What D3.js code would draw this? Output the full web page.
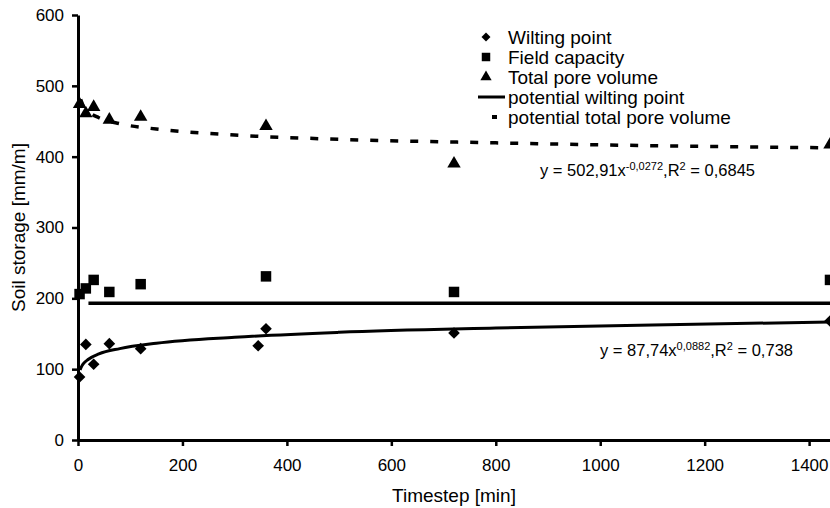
<!DOCTYPE html>
<html>
<head>
<meta charset="utf-8">
<script src="https://cdn.jsdelivr.net/npm/d3@7"></script>
<style>
  body { margin: 0; background: #fff; }
  svg { display: block; font-family: "Liberation Sans", Arial, sans-serif; }
</style>
</head>
<body>
<div id="chart"></div>
<script>
// measured timesteps [min] and soil storage [mm/m]
const timeWilting = [3, 15, 30, 60, 120, 345, 360, 720, 1440];
const wiltingPoint = [89, 135, 107, 136, 129, 133, 157, 151, 168];

const timeField = [3, 15, 30, 60, 120, 360, 720, 1440];
const fieldCapacity = [206, 214, 226, 209, 220, 231, 209, 226];

const timePore = [3, 15, 30, 60, 120, 360, 720, 1440];
const totalPoreVolume = [474, 461, 470, 452, 456, 443, 390, 417];

// trend lines
const trendWiltX = [4, 7, 10, 20, 40, 80, 150, 300, 500, 800, 1100, 1440];
const trendWiltY = [99, 104, 107.5, 114, 121.5, 129, 136.5, 145, 152, 158, 162.5, 166.5];

const trendPoreX = [5, 10, 20, 40, 80, 150, 300, 500, 800, 1100, 1440];
const trendPoreY = [481, 472, 463.5, 455, 446.5, 439, 430.5, 424.5, 419.5, 415.5, 412.5];

const levelX = [20, 1440];
const levelY = [193, 193];

const xTicks = [0, 200, 400, 600, 800, 1000, 1200, 1400];
const yTicks = [0, 100, 200, 300, 400, 500, 600];

const legendLabels = [
  "Wilting point",
  "Field capacity",
  "Total pore volume",
  "potential wilting point",
  "potential total pore volume",
];

const width = 830;
const height = 508;
const margin = { top: 15, right: 0, bottom: 68, left: 78 };

const svg = d3.select("#chart")
  .append("svg")
  .attr("width", width)
  .attr("height", height);

const xScale = d3.scaleLinear([0, 1440], [margin.left, width - margin.right]);
const yScale = d3.scaleLinear([0, 600], [height - margin.bottom, margin.top]);

const diamond = d3.symbol(d3.symbolSquare, 68);
const square = d3.symbol(d3.symbolSquare, 110);
const triangle = d3.symbol(d3.symbolTriangle, 78);

function drawAxes() {
  const xAxis = d3.axisBottom(xScale)
    .tickValues(xTicks)
    .tickSize(6)
    .tickSizeOuter(0)
    .tickPadding(13)
    .tickFormat(d3.format("d"));

  const yAxis = d3.axisLeft(yScale)
    .tickValues(yTicks)
    .tickSize(6)
    .tickSizeOuter(0)
    .tickPadding(8);

  const gx = svg.append("g")
    .attr("class", "x-axis")
    .attr("transform", `translate(0, ${yScale(0)})`)
    .call(xAxis);

  const gy = svg.append("g")
    .attr("class", "y-axis")
    .attr("transform", `translate(${xScale(0)}, 0)`)
    .call(yAxis);

  [gx, gy].forEach((g) => {
    g.select(".domain").attr("stroke", "#000").attr("stroke-width", 3);
    g.selectAll(".tick line").attr("stroke", "#000").attr("stroke-width", 2.5);
    g.selectAll(".tick text")
      .attr("fill", "#000")
      .attr("font-size", 17)
      .attr("font-family", "Liberation Sans, Arial, sans-serif");
  });

  svg.append("text")
    .attr("x", (xScale.range()[0] + xScale.range()[1]) / 2)
    .attr("y", 502)
    .attr("text-anchor", "middle")
    .attr("font-size", 19)
    .text("Timestep [min]");

  svg.append("text")
    .attr("transform", `translate(25, ${(yScale(0) + yScale(600)) / 2}) rotate(-90)`)
    .attr("text-anchor", "middle")
    .attr("font-size", 19)
    .text("Soil storage [mm/m]");
}

function drawLines() {
  const line = d3.line()
    .x((d) => xScale(d[0]))
    .y((d) => yScale(d[1]));

  svg.append("path")
    .attr("d", line(d3.zip(levelX, levelY)))
    .attr("fill", "none")
    .attr("stroke", "#000")
    .attr("stroke-width", 3.5);

  svg.append("path")
    .attr("d", line.curve(d3.curveMonotoneX)(d3.zip(trendWiltX, trendWiltY)))
    .attr("fill", "none")
    .attr("stroke", "#000")
    .attr("stroke-width", 3);

  svg.append("path")
    .attr("d", line.curve(d3.curveMonotoneX)(d3.zip(trendPoreX, trendPoreY)))
    .attr("fill", "none")
    .attr("stroke", "#000")
    .attr("stroke-width", 3.5)
    .attr("stroke-dasharray", "8,12");
}

function drawPoints() {
  svg.append("g")
    .selectAll("path")
    .data(d3.zip(timeWilting, wiltingPoint))
    .join("path")
    .attr("d", diamond)
    .attr("transform", (d) => `translate(${xScale(d[0])}, ${yScale(d[1])}) rotate(45)`);

  svg.append("g")
    .selectAll("path")
    .data(d3.zip(timeField, fieldCapacity))
    .join("path")
    .attr("d", square)
    .attr("transform", (d) => `translate(${xScale(d[0])}, ${yScale(d[1])})`);

  svg.append("g")
    .selectAll("path")
    .data(d3.zip(timePore, totalPoreVolume))
    .join("path")
    .attr("d", triangle)
    .attr("transform", (d) => `translate(${xScale(d[0])}, ${yScale(d[1])})`);
}

function drawLegend() {
  const rowY = (i) => 37 + i * 20;
  const mx = 486;

  const legend = svg.append("g").attr("class", "legend");

  legend.append("path")
    .attr("d", d3.symbol(d3.symbolSquare, 40)())
    .attr("transform", `translate(${mx}, ${rowY(0)}) rotate(45)`);
  legend.append("path")
    .attr("d", d3.symbol(d3.symbolSquare, 72)())
    .attr("transform", `translate(${mx}, ${rowY(1)})`);
  legend.append("path")
    .attr("d", d3.symbol(d3.symbolTriangle, 55)())
    .attr("transform", `translate(${mx}, ${rowY(2)})`);
  legend.append("line")
    .attr("x1", 478).attr("x2", 505)
    .attr("y1", rowY(3)).attr("y2", rowY(3))
    .attr("stroke", "#000").attr("stroke-width", 3);
  legend.append("line")
    .attr("x1", 492).attr("x2", 497)
    .attr("y1", rowY(4)).attr("y2", rowY(4))
    .attr("stroke", "#000").attr("stroke-width", 4);

  legend.selectAll("text")
    .data(legendLabels)
    .join("text")
    .attr("x", 508)
    .attr("y", (d, i) => rowY(i))
    .attr("dy", "0.36em")
    .attr("font-size", 19)
    .text((d) => d);
}

function drawEquations() {
  const eq = [
    { x: 600, y: 356, a: "y = 87,74x", b: "0,0882", c: " = 0,738" },
    { x: 540, y: 176, a: "y = 502,91x", b: "-0,0272", c: " = 0,6845" },
  ];

  eq.forEach((e) => {
    const t = svg.append("text")
      .attr("x", e.x)
      .attr("y", e.y)
      .attr("font-size", 16.5);
    t.append("tspan").text(e.a);
    t.append("tspan").attr("dy", -6).attr("font-size", 11).text(e.b);
    t.append("tspan").attr("dy", 6).text(",R");
    t.append("tspan").attr("dy", -6).attr("font-size", 11).text("2");
    t.append("tspan").attr("dy", 6).text(e.c);
  });
}

drawLines();
drawAxes();
drawPoints();
drawLegend();
drawEquations();
</script>
</body>
</html>
